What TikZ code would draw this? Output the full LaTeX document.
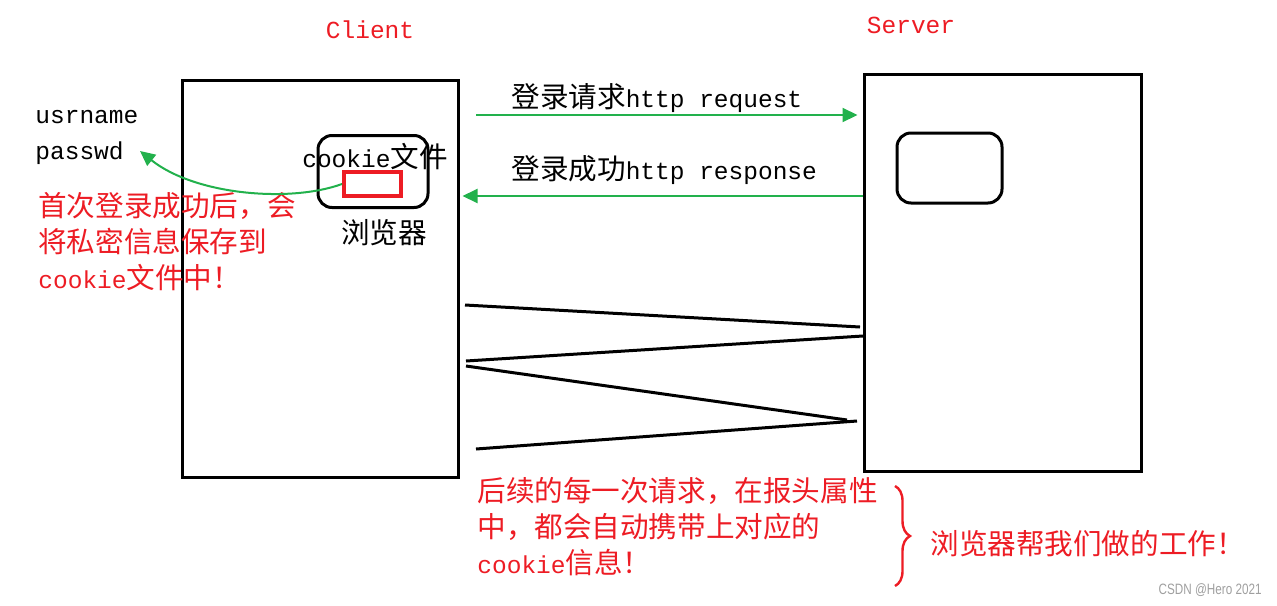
\documentclass[tikz,border=0pt]{standalone}
\usepackage{fontspec}
\setmainfont{Liberation Mono}
\newfontfamily\cjk[Scale=1.167]{Noto Sans CJK SC}
\newfontfamily\markfont[FakeStretch=0.78]{Liberation Sans}
\usetikzlibrary{positioning}
\usetikzlibrary{arrows.meta,decorations.pathreplacing}
\definecolor{paintred}{RGB}{237,28,36}
\definecolor{paintgreen}{RGB}{34,177,76}

\begin{document}
\begin{tikzpicture} [
       x=0.5pt, y=-0.5pt,
       box/.style={draw, line width=1.5pt, inner sep=0pt},
       texte/.style={inner sep=0pt, align=left, font=\fontsize{12.25}{18}\selectfont},
       redtexte/.style={texte, text=paintred},
       line/.style={draw, line width=1pt, paintgreen, -{Triangle[length=7.5pt,width=7pt]}},
       zig/.style={draw, line width=1.5pt},
       ]
       \useasboundingbox (0,0) rectangle (1277,605);
       % boxes
       \node (client) [box, minimum width=138pt, minimum height=198.5pt] at (320,278.5) {};
       \node (server) [box, minimum width=138.5pt, minimum height=198.5pt] at (1002.5,272.5) {};
       \node (browser) [box, rounded corners=7pt, minimum width=55pt, minimum height=36pt] at (373,171.5) {};
       \node (store) [draw=paintred, line width=2pt, inner sep=0pt, minimum width=28.5pt, minimum height=12pt] at (372.5,184) {};
       \node (session) [box, rounded corners=7pt, minimum width=52.5pt, minimum height=35pt] at (949.5,168) {};
       % texts
       \node (clientname) [redtexte] at (370,30) {Client};
       \node (servername) [redtexte] at (911,25) {Server};
       \node (cookie) [texte] at (375,157) {cookie{\cjk 文件}};
       \node (browsername) [texte] at (384,233) {{\cjk 浏览器}};
       \node (creds) [texte, anchor=west] at (35,137) {usrname\\passwd};
       \node (first) [redtexte, anchor=west] at (38,242) {{\cjk 首次登录成功后，会}\\{\cjk 将私密信息保存到}\\cookie{\cjk 文件中！}};
       \node (reqlabel) [texte, anchor=west] at (511,98) {{\cjk 登录请求}http request};
       \node (resplabel) [texte, anchor=west] at (511,170) {{\cjk 登录成功}http response};
       \node (later) [redtexte, anchor=west] at (477,527) {{\cjk 后续的每一次请求，在报头属性}\\{\cjk 中，都会自动携带上对应的}\\cookie{\cjk 信息！}};
       \node (work) [redtexte, anchor=west] at (930,544) {{\cjk 浏览器帮我们做的工作！}};
       \node (mark) [anchor=east, inner sep=0pt, text=gray!75, font=\markfont\fontsize{7.5}{8}\selectfont] at (1262,590) {CSDN @Hero 2021};
       % free ends
       \coordinate (reqstart) at (476,115);
       \coordinate (respy) at (0,196);
       \coordinate (passtip) at (140,151);
       \coordinate (z1) at (465,305);
       \coordinate (z2) at (860,327);
       \coordinate (z3) at (863,336);
       \coordinate (z4) at (466,361);
       \coordinate (z5) at (466,366);
       \coordinate (z6) at (847,420);
       \coordinate (z7) at (857,421);
       \coordinate (z8) at (476,449);
       \coordinate (bracetop) at (895,486);
       \coordinate (bracebottom) at (895,586);
        \begin{scope}[every path/.style=line]
        \path (reqstart) -- ([xshift=-2.5pt]server.west |- reqstart);
        \path (server.west |- respy) -- ([xshift=1.5pt]client.east |- respy);
        \path (store.west) .. controls (290,203) and (195,195) .. (passtip);
        \end{scope}
        \begin{scope}[every path/.style=zig]
        \path (z1) -- (z2);
        \path (z3) -- (z4);
        \path (z5) -- (z6);
        \path (z7) -- (z8);
        \end{scope}
        \draw [paintred, line width=1.2pt, decorate, decoration={brace, amplitude=7.5pt}] (bracetop) -- (bracebottom);
\end{tikzpicture}
\end{document}
